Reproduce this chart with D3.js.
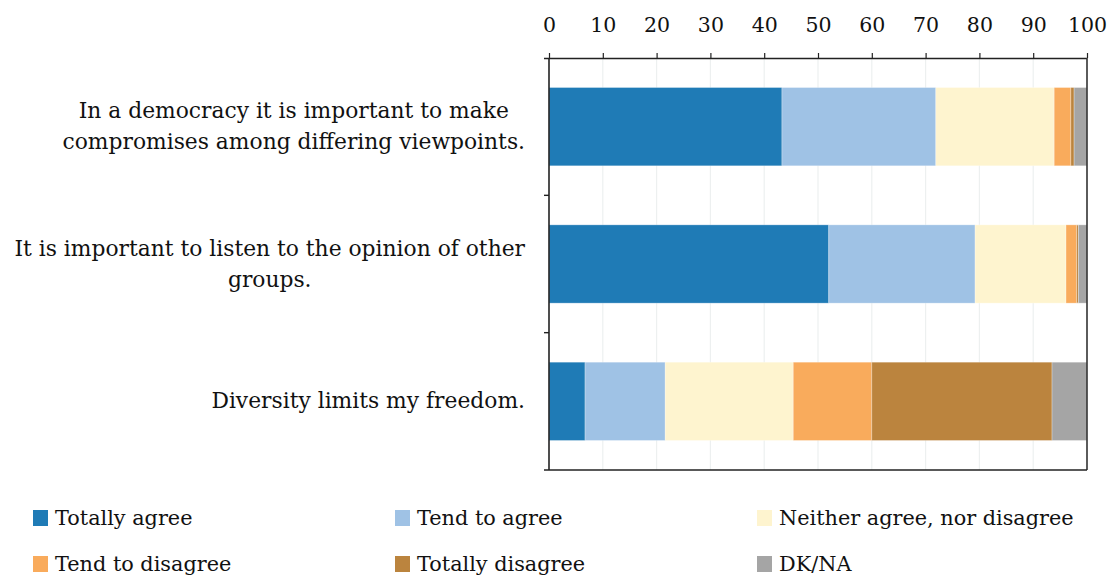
<!DOCTYPE html>
<html><head><meta charset="utf-8">
<script src="https://cdn.jsdelivr.net/npm/d3@7"></script>
<style>body{margin:0;background:#fff}</style>
</head><body>
<svg id="c" width="1115" height="578"></svg>
<script>
const categories = [
  ["In a democracy it is important to make", "compromises among differing viewpoints."],
  ["It is important to listen to the opinion of other", "groups."],
  ["Diversity limits my freedom."]
];
const seriesNames = ["Totally agree","Tend to agree","Neither agree, nor disagree","Tend to disagree","Totally disagree","DK/NA"];
const totallyAgree    = [43.3, 52.0, 6.7];
const tendAgree       = [28.6, 27.2, 14.9];
const neither         = [22.0, 16.9, 23.8];
const tendDisagree    = [3.1, 2.0, 14.6];
const totallyDisagree = [0.6, 0.3, 33.5];
const dkna            = [2.4, 1.6, 6.5];
const tickValues = [0,10,20,30,40,50,60,70,80,90,100];
const colors = ["#1f7bb6","#9fc2e5","#fef4cf","#f9ab5c","#bb843e","#a5a5a5"];

const series = [totallyAgree,tendAgree,neither,tendDisagree,totallyDisagree,dkna];
const rows = categories.map((c,i)=>{const o={idx:i}; seriesNames.forEach((s,j)=>o[s]=series[j][i]); return o;});
const stack = d3.stack().keys(seriesNames)(rows);

const svg = d3.select("#c");
const FONT = "DejaVu Serif";
const L=549, R=1087, T=58, B=470;
const x = d3.scaleLinear().domain([0,100]).range([L,R]);
const y = d3.scaleBand().domain(d3.range(categories.length)).range([T,B]).paddingInner(0.43).paddingOuter(0.215);

// gridlines
svg.append("g").selectAll("line").data(tickValues.slice(1,-1)).join("line")
  .attr("x1",d=>x(d)).attr("x2",d=>x(d)).attr("y1",T).attr("y2",B)
  .attr("stroke","#edf0f0").attr("stroke-width",1.2);

// bars
svg.append("g").selectAll("g").data(stack).join("g").attr("fill",(d,i)=>colors[i])
  .selectAll("rect").data(d=>d).join("rect")
  .attr("x",d=>x(d[0])).attr("width",d=>x(d[1])-x(d[0]))
  .attr("y",d=>y(d.data.idx)).attr("height",y.bandwidth())
  .attr("stroke","#ffffff").attr("stroke-opacity",0.35).attr("stroke-width",0.8);

// top axis
const ax = svg.append("g").attr("transform",`translate(0,${T})`)
  .call(d3.axisTop(x).tickValues(tickValues).tickSize(5).tickPadding(21).tickSizeOuter(0));
ax.select(".domain").attr("stroke","#222").attr("stroke-width",1.6).attr("d",`M${L-5},0.5H${R}`);
ax.selectAll(".tick line").attr("stroke","#222").attr("stroke-width",1.2);
ax.selectAll("text").attr("font-family",FONT).attr("font-size",20.5).attr("fill","#111");

// frame lines
svg.append("line").attr("x1",L).attr("x2",L).attr("y1",T).attr("y2",B).attr("stroke","#222").attr("stroke-width",1.6);
svg.append("line").attr("x1",R).attr("x2",R).attr("y1",T).attr("y2",B).attr("stroke","#333").attr("stroke-width",1.6);
svg.append("line").attr("x1",L-5).attr("x2",R).attr("y1",B).attr("y2",B).attr("stroke","#222").attr("stroke-width",1.6);
// category dividers
const divs = d3.range(1,categories.length).map(i=>y(i)-y.step()*y.paddingInner()/2);
svg.append("g").selectAll("line").data(divs).join("line")
  .attr("x1",L-5).attr("x2",L).attr("y1",d=>d).attr("y2",d=>d).attr("stroke","#222").attr("stroke-width",1.4);

// category labels
categories.forEach((lines,i)=>{
  const g = svg.append("g");
  const cy = y(i)+y.bandwidth()/2;
  const lh = 31;
  const texts = lines.map((t,k)=>g.append("text").text(t)
    .attr("font-family",FONT).attr("font-size",21.8).attr("fill","#111")
    .attr("y",cy+(k-(lines.length-1)/2)*lh+7));
  const w = d3.max(texts,t=>t.node().getComputedTextLength());
  const cx = 525 - w/2;
  texts.forEach(t=>t.attr("x",cx).attr("text-anchor","middle"));
});

// legend
const legCols=[33,395,757], legRows=[518,564];
const lg = svg.append("g").selectAll("g").data(seriesNames).join("g")
  .attr("transform",(d,i)=>`translate(${legCols[i%3]},${legRows[Math.floor(i/3)]})`);
lg.append("rect").attr("x",0).attr("y",-8).attr("width",15).attr("height",16).attr("fill",(d,i)=>colors[i]);
lg.append("text").text(d=>d).attr("x",22).attr("y",7)
  .attr("font-family",FONT).attr("font-size",20.8).attr("fill","#111");
</script>
</body></html>
